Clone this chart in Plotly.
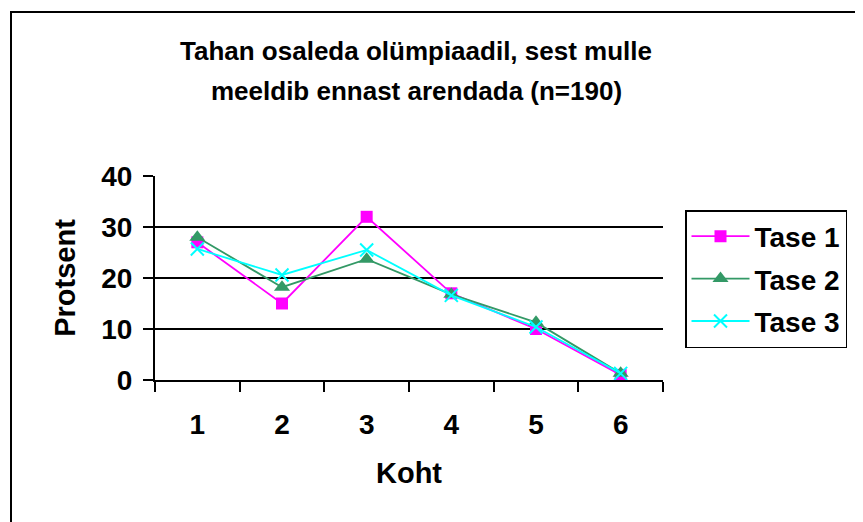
import plotly.graph_objects as go

categories = ["1", "2", "3", "4", "5", "6"]
tase1 = [27, 15, 32, 17, 10, 1]
tase2 = [28, 18.2, 23.7, 16.8, 11.3, 1.3]
tase3 = [25.7, 20.6, 25.5, 16.6, 10.4, 1.3]
series_names = ["Tase 1", "Tase 2", "Tase 3"]
title_lines = ["Tahan osaleda olümpiaadil, sest mulle", "meeldib ennast arendada (n=190)"]
y_ticks = [0, 10, 20, 30, 40]

FONT = "Liberation Sans, Arial, sans-serif"
OFF = 8  # default body margin of the html page
W, H = 855, 514
L, T = 147, 168
PW, PH = 508, 204
R, B = W - L - PW, H - T - PH

def px_x(x):
    return (x - OFF - L) / PW

def px_y(y):
    return (H - B - (y - OFF)) / PH

fig = go.Figure()
styles = [
    dict(color="#FF00FF", symbol="square", size=12),
    dict(color="#339966", symbol="triangle-up", size=14),
    dict(color="#00FFFF", symbol="x-thin", size=13),
]
for name, vals, st in zip(series_names, [tase1, tase2, tase3], styles):
    marker = dict(symbol=st["symbol"], size=st["size"], color=st["color"])
    if st["symbol"] == "x-thin":
        marker["line"] = dict(color=st["color"], width=2)
    fig.add_trace(go.Scatter(
        x=categories, y=vals, name=name, mode="lines+markers",
        legendgroup=name,
        line=dict(color=st["color"], width=1.8),
        marker=marker,
    ))

fig.update_layout(
    width=W, height=H,
    margin=dict(l=L, r=R, t=T, b=B, pad=0),
    paper_bgcolor="white", plot_bgcolor="white",
    font=dict(family=FONT, color="black", size=28, weight="bold"),
    showlegend=True,
    legend=dict(
        x=px_x(685), y=px_y(210), xanchor="left", yanchor="top",
        bordercolor="black", borderwidth=1.5,
        font=dict(size=28, family=FONT, weight="bold"),
        tracegroupgap=3, traceorder="grouped",
        itemwidth=58,
    ),
    xaxis=dict(
        type="category", tickson="boundaries", range=[-0.5, 5.5],
        ticks="outside", ticklen=10, tickwidth=1.5, tickcolor="black",
        showline=True, linecolor="black", linewidth=2,
        showgrid=False, zeroline=False,
        tickfont=dict(size=28, family=FONT, weight="bold"),
        ticklabelstandoff=18,
        title=dict(text="Koht", font=dict(size=29, family=FONT, weight="bold"), standoff=24),
    ),
    yaxis=dict(
        range=[0, 40], tickvals=y_ticks,
        ticks="outside", ticklen=10, tickwidth=1.5, tickcolor="black",
        showline=True, linecolor="black", linewidth=2,
        showgrid=True, gridcolor="black", gridwidth=1.5,
        zeroline=False,
        tickfont=dict(size=28, family=FONT, weight="bold"),
        ticklabelstandoff=5,
        title=dict(text="Protsent", font=dict(size=29, family=FONT, weight="bold"), standoff=17),
    ),
    shapes=[dict(
        type="rect", xref="paper", yref="paper",
        x0=px_x(11), x1=px_x(900), y0=px_y(560), y1=px_y(12),
        line=dict(color="black", width=2), fillcolor="rgba(0,0,0,0)", layer="below",
    )],
    annotations=[
        dict(text=title_lines[0], xref="paper", yref="paper", x=px_x(416), y=px_y(51),
             xanchor="center", yanchor="middle", showarrow=False,
             font=dict(size=26, family=FONT, weight="bold")),
        dict(text=title_lines[1], xref="paper", yref="paper", x=px_x(416), y=px_y(91),
             xanchor="center", yanchor="middle", showarrow=False,
             font=dict(size=26, family=FONT, weight="bold")),
    ],
)

fig.write_html("out.html")
